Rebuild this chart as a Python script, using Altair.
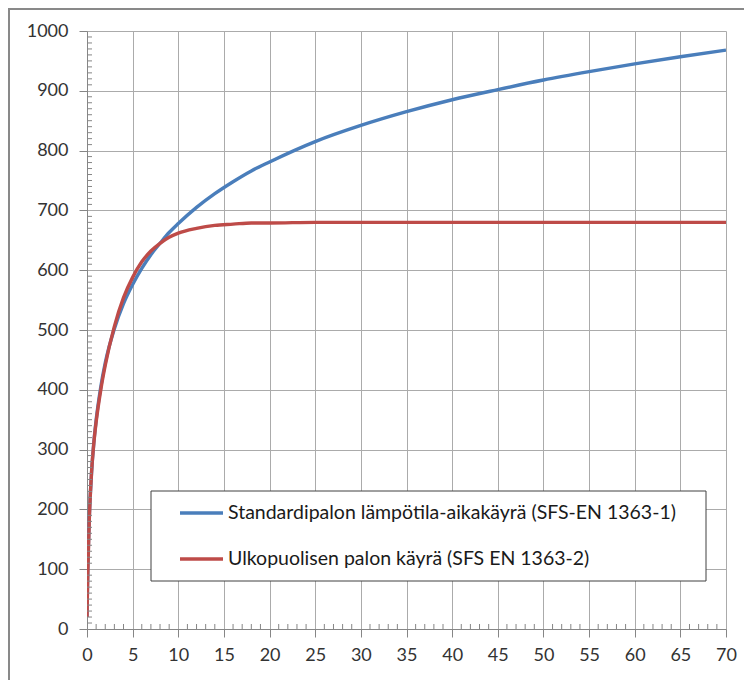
import altair as alt
import pandas as pd

# ---- data ----
time_min = [0, 0.05, 0.1, 0.25, 0.5, 0.75, 1, 1.5, 2, 3, 4, 5, 6, 7, 8, 9, 10,
            12, 14, 16, 18, 20, 25, 30, 35, 40, 45, 50, 55, 60, 65, 70]
standard_temp = [20, 70, 108, 185, 261, 312, 349, 404, 445, 502, 544, 576, 603, 626, 645, 663, 678,
                 705, 728, 748, 766, 781, 815, 842, 865, 885, 902, 918, 932, 945, 957, 968]
external_temp = [20, 63, 100, 182, 263, 311, 346, 399, 441, 506, 554, 588, 614, 632, 645, 655, 662,
                 670, 675, 677, 679, 679, 680, 680, 680, 680, 680, 680, 680, 680, 680, 680]

series_names = ["Standardipalon lämpötila-aikakäyrä (SFS-EN 1363-1)",
                "Ulkopuolisen palon käyrä (SFS EN 1363-2)"]
series_colors = ["#4A7EBB", "#BE4B48"]

x_ticks = list(range(0, 71, 5))
y_ticks = list(range(0, 1001, 100))
x_minor = [v for v in range(0, 71) if v % 5]
y_minor = [v for v in range(0, 1001, 10) if v % 100]

rows = []
for name, vals in zip(series_names, [standard_temp, external_temp]):
    for t, v in zip(time_min, vals):
        rows.append({"t": t, "temp": v, "series": name})
df = pd.DataFrame(rows)

W, H = 639, 598
FONT = "Lato"
AX_GRAY = "#868686"
GRID_GRAY = "#ABABAB"
LABEL_COLOR = "#333333"

xscale = alt.Scale(domain=[0, 70], nice=False, zero=False)
yscale = alt.Scale(domain=[0, 1000], nice=False)

xaxis = alt.Axis(values=x_ticks, grid=True, title=None, tickSize=8, labelPadding=9,
                 labelFontSize=18, labelFont=FONT, labelColor=LABEL_COLOR, format="d",
                 tickColor=AX_GRAY, domainColor=AX_GRAY, gridColor=GRID_GRAY,
                 labelFlush=False)
yaxis = alt.Axis(values=y_ticks, grid=True, title=None, tickSize=8, labelPadding=11,
                 labelFontSize=18, labelFont=FONT, labelColor=LABEL_COLOR, format="d",
                 tickColor=AX_GRAY, domainColor=AX_GRAY, gridColor=GRID_GRAY)

base = alt.Chart(df)

blue = base.transform_filter(alt.datum.series == series_names[0]).mark_line(
    strokeWidth=3.4, interpolate="monotone", color=series_colors[0], clip=True
).encode(
    x=alt.X("t:Q", scale=xscale, axis=xaxis),
    y=alt.Y("temp:Q", scale=yscale, axis=yaxis),
)
red = base.transform_filter(alt.datum.series == series_names[1]).mark_line(
    strokeWidth=3.4, interpolate="monotone", color=series_colors[1], clip=True
).encode(
    x=alt.X("t:Q", scale=xscale, axis=xaxis),
    y=alt.Y("temp:Q", scale=yscale, axis=yaxis),
)

xminor_layer = alt.Chart(pd.DataFrame({"v": x_minor})).mark_rule(
    color=AX_GRAY, strokeWidth=1
).encode(
    x=alt.X("v:Q", scale=xscale, axis=xaxis),
    y=alt.value(H),
    y2=alt.value(H - 5),
)
yminor_layer = alt.Chart(pd.DataFrame({"v": y_minor})).mark_rule(
    color=AX_GRAY, strokeWidth=1
).encode(
    y=alt.Y("v:Q", scale=yscale, axis=yaxis),
    x=alt.value(0),
    x2=alt.value(5),
)

one = pd.DataFrame({"k": [0]})

legend_box = alt.Chart(one).mark_rect(
    fill="white", stroke="#404040", strokeWidth=1
).encode(
    x=alt.value(64), x2=alt.value(619), y=alt.value(460), y2=alt.value(550)
)

legend_layers = [legend_box]
for i, (name, col) in enumerate(zip(series_names, series_colors)):
    yy = 482 + 46 * i
    legend_layers.append(
        alt.Chart(one).mark_rule(color=col, strokeWidth=3.4).encode(
            x=alt.value(93), x2=alt.value(136), y=alt.value(yy)
        )
    )
    legend_layers.append(
        alt.Chart(one).mark_text(
            text=name, align="left", baseline="middle", font=FONT,
            fontSize=19.5, color="#1a1a1a"
        ).encode(x=alt.value(141), y=alt.value(yy))
    )

frame = alt.Chart(one).mark_rect(
    fillOpacity=0, stroke="#898989", strokeWidth=2
).encode(
    x=alt.value(-78), x2=alt.value(720), y=alt.value(-22), y2=alt.value(700)
)

chart = alt.layer(
    blue, red, xminor_layer, yminor_layer, *legend_layers, frame
).properties(
    width=W, height=H,
    autosize=alt.AutoSizeParams(type="none"),
    padding={"left": 79, "top": 23, "right": 18, "bottom": 51},
    background="white",
).configure_view(strokeOpacity=0)

chart.save("out.html", embed_options={"renderer": "svg", "actions": False})
